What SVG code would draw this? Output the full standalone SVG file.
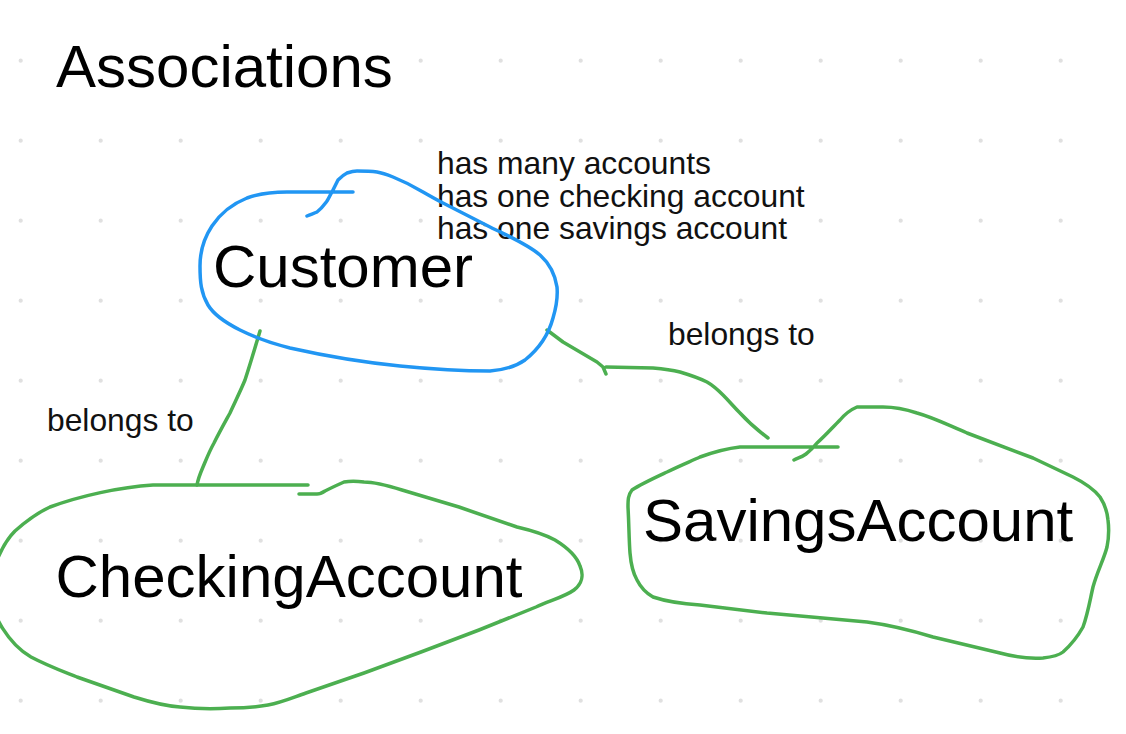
<svg xmlns="http://www.w3.org/2000/svg" width="1126" height="734" viewBox="0 0 1126 734">
  <style>
    .big { font-family: "Liberation Sans", Arial, sans-serif; font-size: 60px; fill: #000; }
    .small { font-family: "Liberation Sans", Arial, sans-serif; font-size: 31.8px; fill: #111; }
    .blue { fill: none; stroke: #2196F3; stroke-width: 3.5; stroke-linecap: round; stroke-linejoin: round; }
    .green { fill: none; stroke: #4CAF50; stroke-width: 3.5; stroke-linecap: round; stroke-linejoin: round; }
  </style>
  <defs>
    <pattern id="dots" x="0" y="0" width="80" height="80" patternUnits="userSpaceOnUse">
      <circle cx="20.7" cy="60.7" r="2.1" fill="#e0e0e0"/>
    </pattern>
  </defs>
  <rect width="1126" height="734" fill="#ffffff"/>
  <rect width="1126" height="734" fill="url(#dots)"/>

  <g id="title">
    <rect x="50" y="38" width="348" height="58" fill="#ffffff"/>
    <text class="big" x="56" y="87">Associations</text>
  </g>

  <g id="customer-notes">
    <rect x="432" y="148" width="380" height="100" fill="#ffffff"/>
    <text class="small" x="437" y="174">has many accounts</text>
    <text class="small" x="437" y="206.5">has one checking account</text>
    <text class="small" x="437" y="239">has one savings account</text>
  </g>

  <g id="connectors">
    <path class="green" d="M260,331 C255,348 250,365 245,380 C240,392 235,402 230,413 C224,424 219,433 214,443 C209,452 206,460 203,467 C200,474 198,479 197,485"/>
    <path class="green" d="M547,330 L563,342 L580,352 L597,362 L603,367 L606,374 M606,367 L653,368 C665,369 672,370 680,372 C690,375 699,378 707,382 C714,386 718,390 723,395 C730,402 734,407 740,413 C750,424 760,432 768,438"/>
    <text class="small" x="47" y="431">belongs to</text>
    <text class="small" x="668" y="345">belongs to</text>
  </g>

  <g id="customer">
    <path class="blue" d="M307,216 C312,214 315,213 317,212 C322,208 324,205 327,201 C329,198 330,195 332,192 C334,188 336,184 338,180 C341,177 343,175 347,173 C350,172 353,171 357,171 C364,171 370,171 377,172 C383,173 388,175 393,177 C403,181 413,186 423,192 C430,196 437,200 443,203 L490,227 C510,237 527,244 540,255 C550,264 555,274 557,287 C558,298 556,308 553,318 C549,333 540,348 525,360 C515,367 503,370 490,371 C460,371 430,369 400,366 C370,363 330,357 290,348 C270,343 254,337 240,330 C226,323 214,315 208,305 C201,293 200,282 200,266 C200,251 204,238 212,226 C220,214 232,204 247,198 C258,194 270,192 287,192 L353,192"/>
    <text class="big" x="213" y="287">Customer</text>
  </g>

  <g id="checking-account">
    <path class="green" d="M308,485 L153,485 C120,487 80,496 50,507 C35,514 24,523 15,531 C4,542 -8,565 -10,590 C-10,615 10,645 31,657 C48,666 62,671 77,677 L134,697 C150,702 165,706 180,707 C198,709 214,709 230,708 C245,708 257,707 268,705 C283,702 294,697 306,693 L364,673 L421,652 L479,630 L536,607 C552,600 566,596 574,590 C582,584 584,575 580,566 C577,557 568,548 555,540 C542,533 530,530 517,527 L459,507 L402,490 C386,485 375,482 364,482 C356,481 350,481 344,482 C337,485 331,488 325,491 C322,493 320,494 317,494 L299,494"/>
    <text class="big" x="55.5" y="597">CheckingAccount</text>
  </g>

  <g id="savings-account">
    <path class="green" d="M838,447 L740,447 C722,449 711,453 700,457 C689,462 679,466 667,472 C652,479 641,484 632,490 C628,495 628,500 628,507 C629,525 629,540 630,553 C631,565 633,573 637,580 C641,588 646,593 653,597 C668,602 685,604 700,605 L767,613 L867,622 C890,625 910,630 933,637 L1000,653 C1015,657 1030,659 1043,658 C1052,657 1058,656 1063,652 C1072,644 1078,636 1083,627 C1088,613 1090,600 1093,587 C1097,572 1104,559 1107,547 C1109,537 1109,528 1108,520 C1107,510 1104,503 1100,497 C1093,488 1083,482 1073,477 L1033,458 L967,433 C950,426 935,418 917,413 C905,409 895,407 883,407 L857,407 C850,410 845,414 840,420 C832,428 825,436 817,443 C813,448 810,451 806,454 C802,457 798,458 794,460"/>
    <text class="big" x="643" y="541">SavingsAccount</text>
  </g>
</svg>
